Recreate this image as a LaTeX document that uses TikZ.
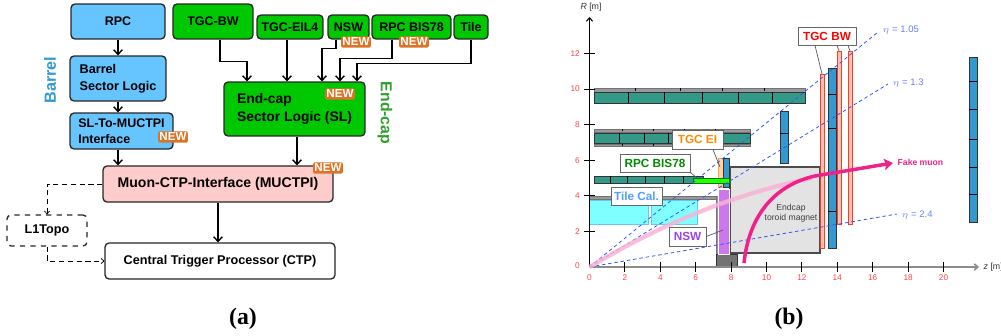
\documentclass[tikz,border=0pt]{standalone}
\usepackage{fontspec}
\setmainfont{Liberation Sans}
\newfontfamily\capfont{Liberation Serif}
\usetikzlibrary{arrows.meta,positioning}
\definecolor{barrelblue}{HTML}{66C5FF}
\definecolor{endgreen}{HTML}{00C800}
\definecolor{endtext}{HTML}{2CA02C}
\definecolor{ctppink}{HTML}{FFCCCC}
\definecolor{neworange}{HTML}{DC7428}
\definecolor{mdtblue}{HTML}{3399D0}
\definecolor{rpcteal}{HTML}{339988}
\definecolor{tgcred}{HTML}{F04030}
\definecolor{tgcfill}{HTML}{FFC0B0}
\definecolor{etablue}{HTML}{3355EE}
\definecolor{muonpink}{HTML}{EE2288}
\definecolor{ticktext}{HTML}{FF4444}
\definecolor{tilecyan}{HTML}{7FFFFF}
\definecolor{nswpurple}{HTML}{CC77EE}
\definecolor{nswtext}{HTML}{9944EE}
\tikzset{
	sysbox/.style={draw=black!85,line width=.75pt,rounded corners=2.3pt,font=\fontsize{7.1}{9.4}\selectfont\bfseries,align=left,inner sep=0pt},
	bluebox/.style={sysbox,fill=barrelblue},
	greenbox/.style={sysbox,fill=endgreen},
	newbadge/.style={fill=neworange,text=white,rounded corners=.8pt,inner xsep=.7pt,inner ysep=1pt,font=\fontsize{6.6}{7}\selectfont\bfseries},
	calloutbox/.style={draw=black!60,fill=white,line width=.5pt,inner sep=0pt,font=\fontsize{6.7}{8}\selectfont\bfseries},
	calloutline/.style={draw=black!65,line width=.4pt},
	ticklabel/.style={text=ticktext,inner sep=0pt,font=\fontsize{4.7}{5}\selectfont},
	etalabel/.style={text=etablue!75,inner sep=0pt,anchor=west,font=\fontsize{5.4}{6}\selectfont},
	etaline/.style={etablue,line width=.45pt,dash pattern=on 2pt off 1.6pt},
	mdtbar/.style={draw=black!80,fill=mdtblue,line width=.5pt},
	tgcbar/.style={draw=tgcred,fill=tgcfill,line width=.45pt},
	tealbar/.style={draw=black!80,fill=rpcteal,line width=.5pt},
	greybar/.style={draw=black!55,fill=black!40,line width=.3pt},
	smalltip/.style={>={Straight Barb[length=1.6pt,width=3pt]}}
}

\begin{document}
\begin{tikzpicture}[> = {Straight Barb[length=2.6pt,width=5pt]}, % arrow head style
	x=.02cm,y=-.02cm, % one unit is one pixel of the figure
	line width=.8pt]
	\useasboundingbox (0,0) rectangle (1001,335);

	% left: trigger flow
	\node[bluebox,minimum width=1.88cm,minimum height=.7cm] (rpc) at (118,21.5) {RPC};
	\node[bluebox,minimum width=1.92cm,minimum height=.9cm,font=\fontsize{7.2}{9.4}\selectfont\bfseries] (barrelsl) at (118,78.5) {Barrel\\Sector Logic};
	\node[bluebox,minimum width=2.06cm,minimum height=.72cm] (sltomu) at (121.5,131) {SL-To-MUCTPI\\Interface};
	\node[greenbox,minimum width=1.6cm,minimum height=.7cm] (tgcbw) at (213,21.5) {TGC-BW};
	\node[greenbox,minimum width=1.32cm,minimum height=.48cm] (tgceil) at (290,27) {TGC-EIL4};
	\node[greenbox,minimum width=.82cm,minimum height=.48cm] (nsw) at (348.5,27) {NSW};
	\node[greenbox,minimum width=1.58cm,minimum height=.48cm] (rpcbis) at (411.5,27) {RPC BIS78};
	\node[greenbox,minimum width=.68cm,minimum height=.48cm] (tile) at (471,27) {Tile};
	\node[greenbox,minimum width=2.82cm,minimum height=1.08cm,font=\fontsize{7.9}{10}\selectfont\bfseries] (endcap) at (294.5,109) {End-cap\\Sector Logic (SL)};
	\node[sysbox,fill=ctppink,minimum width=4.6cm,minimum height=.72cm,font=\fontsize{8}{9}\selectfont\bfseries] (muctpi) at (218,184) {Muon-CTP-Interface (MUCTPI)};
	\node[sysbox,fill=white,minimum width=4.6cm,minimum height=.72cm,font=\fontsize{7.2}{8}\selectfont\bfseries] (ctp) at (220,261) {Central Trigger Processor (CTP)};
	\node[sysbox,fill=white,dashed,minimum width=1.6cm,minimum height=.62cm,font=\fontsize{7.2}{8}\selectfont\bfseries] (l1topo) at (47,230.5) {L1Topo};

	\draw [->] (rpc) -- (barrelsl);
	\draw [->] (barrelsl.south) -- (barrelsl.south |- sltomu.north);
	\draw [->] (barrelsl.south |- sltomu.south) -- (barrelsl.south |- muctpi.north);
	\draw [->] ([xshift=.14cm]tgcbw.south) -- ++(0,22) -| ([xshift=-.95cm]endcap.north);
	\draw [->] ([xshift=-.06cm]tgceil.south) -- ([xshift=-.06cm]tgceil.south |- endcap.north);
	\draw [->] ([xshift=-.25cm]nsw.south) -- ++(0,9) -| ([xshift=.55cm]endcap.north);
	\draw [->] ([xshift=-.39cm]rpcbis.south) -- ++(0,19) -| ([xshift=.91cm]endcap.north);
	\draw [->] (tile.south) -- ++(0,24) -| ([xshift=1.25cm]endcap.north);
	\draw [->] ([xshift=.05cm]endcap.south) -- ([xshift=.05cm]endcap.south |- muctpi.north);
	\draw [->] (muctpi) -- (muctpi |- ctp.north);
	\draw [->,smalltip,densely dashed,line width=.4pt] (muctpi.west) -| (l1topo.north);
	\draw [->,smalltip,densely dashed,line width=.4pt] (l1topo.south) |- (ctp.west);

	\node[newbadge] (new1) at (173,137) {NEW};
	\node[newbadge] (new2) at (356,42) {NEW};
	\node[newbadge] (new3) at (414,42) {NEW};
	\node[newbadge] (new4) at (340,94) {NEW};
	\node[newbadge] (new5) at (328,168) {NEW};

	\node[rotate=90,text=mdtblue,font=\fontsize{9.2}{10}\selectfont\bfseries,inner sep=0pt] (barreltxt) at (50,80) {Barrel};
	\node[rotate=-90,text=endtext,font=\fontsize{9}{10}\selectfont\bfseries,inner sep=0pt] (endtxt) at (385,113) {End-cap};
	\node[font=\fontsize{13.5}{14}\selectfont\bfseries\capfont,inner sep=0pt] (capa) at (243,319) {(a)};
	\node[font=\fontsize{13.5}{14}\selectfont\bfseries\capfont,inner sep=0pt] (capb) at (789,319) {(b)};

	% right: detector layout
	\draw[greybar] (594,88) rectangle (805,92);
	\draw[tealbar] (594,92) rectangle (805,103);
	\foreach \xd in {628,664,702,738,772} \draw[black,line width=.5pt] (\xd,92) -- (\xd,103);
	\foreach \xd in {635,680,722,764} \draw[black,line width=.4pt] (\xd,88) -- (\xd,90.5);

	\draw[greybar] (594,129) rectangle (750,132);
	\draw[tealbar] (594,133) rectangle (750,143);
	\draw[greybar] (594,144) rectangle (750,146);
	\foreach \xd in {619,644,668,696,723} \draw[black,line width=.5pt] (\xd,133) -- (\xd,143);
	\foreach \xd in {622,653,684,715} {
		\draw[black,line width=.4pt] (\xd,129) -- (\xd,131);
		\draw[black,line width=.4pt] (\xd,144) -- (\xd,146);
	}

	\draw[tealbar] (594,176) rectangle (703,183);
	\foreach \xd in {610,627,645,664,683} \draw[black,line width=.5pt] (\xd,176) -- (\xd,183);

	\draw[greybar] (589,196) rectangle (716,199);
	\draw[greybar] (716,196) rectangle (718,254);
	\draw[draw=barrelblue,fill=tilecyan,line width=.5pt] (589,200) -- (648,200) -- (648,224) -- (589,224);
	\draw[draw=barrelblue,fill=tilecyan,line width=.5pt] (651,200) rectangle (697,224);

	\draw[draw=black!70,fill=black!11,line width=.6pt] (730,167) rectangle (820,253);
	\node[inner sep=0pt,align=center,font=\fontsize{4.9}{5.9}\selectfont,text=black!75] (toroidtxt) at (791,213) {Endcap\\toroid magnet};
	\draw[draw=black!80,fill=black!55,line width=.5pt] (716,254) rectangle (737,266);
	\draw[draw=white,fill=nswpurple,line width=.4pt] (718,189) rectangle (729,254);
	\draw[draw=orange!70,fill=orange!35,line width=.4pt] (718,158) rectangle (723,187);
	\draw[mdtbar] (723,158) rectangle (729,187);
	\draw[draw=green!50!black,fill=green!85!yellow,line width=.4pt] (693,178) rectangle (729,183);

	\draw[tgcbar] (820,74) rectangle (824,248);
	\draw[tgcbar] (837,51) rectangle (841,224);
	\draw[tgcbar] (848,51) rectangle (852,224);
	\draw[mdtbar] (828,68) rectangle (836,248);
	\foreach \yd in {94,128,172,211} \draw[black,line width=.5pt] (828,\yd) -- (836,\yd);
	\draw[mdtbar] (780,111) rectangle (788,163);
	\draw[black,line width=.5pt] (780,133) -- (788,133);
	\draw[mdtbar] (969,57) rectangle (977,222);
	\foreach \yd in {81,109,139,167,194} \draw[black,line width=.5pt] (969,\yd) -- (977,\yd);

	% axes
	\coordinate (orig) at (589.5,267);
	\coordinate (zend) at (979,267);
	\coordinate (rend) at (589.5,17);
	\draw[-{Straight Barb[length=2pt,width=3.6pt]},black!45,line width=.9pt] (orig) -- (zend);
	\draw[-{Straight Barb[length=2pt,width=3.6pt]},black,line width=.6pt] (orig) -- (rend);
	\foreach \zt in {2,4,...,20} {
		\draw[black,line width=.5pt] ({589.5+17.7*\zt},262) -- ({589.5+17.7*\zt},272);
		\node[ticklabel] (zl\zt) at ({589.5+17.7*\zt},278) {\zt};
	}
	\node[ticklabel] (zl0) at (589.5,278) {0};
	\foreach \rt in {2,4,...,12} {
		\draw[black,line width=.5pt] (584,{267-17.8*\rt}) -- (595,{267-17.8*\rt});
		\node[ticklabel,anchor=east] (rl\rt) at (580.5,{267-17.8*\rt}) {\rt};
	}
	\node[ticklabel,anchor=east] (rl0) at (580.5,266) {0};
	\node[inner sep=0pt,font=\fontsize{5}{6}\selectfont,text=black!80] (rname) at (591,7) {\textit{R} [m]};
	\node[inner sep=0pt,anchor=west,font=\fontsize{5}{6}\selectfont,text=black!80] (zname) at (983,267) {\textit{z} [m]};

	% eta lines
	\coordinate (eta1) at (878,32);
	\coordinate (eta2) at (888,84);
	\coordinate (eta3) at (897,214);
	\draw[etaline] (orig) -- (eta1);
	\draw[etaline] (orig) -- (eta2);
	\draw[etaline] (orig) -- (eta3);
	\node[etalabel] (etatxt1) at (882,30) {$\eta$ = 1.05};
	\node[etalabel] (etatxt2) at (892,83) {$\eta$ = 1.3};
	\node[etalabel] (etatxt3) at (901,215) {$\eta$ = 2.4};

	% muon tracks
	\coordinate (muonend) at (893,163);
	\draw[muonpink!35,line width=2.4pt,opacity=.85] (orig) .. controls (660,225) and (730,195) .. (812,178);
	\draw[-{Stealth[length=5pt,width=6.5pt,inset=1pt]},muonpink,line width=2pt] (744,263) .. controls (749,215) and (775,185) .. (815,176) -- (muonend);
	\node[inner sep=0pt,anchor=west,text=muonpink,font=\fontsize{4.9}{6}\selectfont\bfseries] (muontxt) at (897,162) {Fake muon};

	% callouts
	\node[calloutbox,text=red,minimum width=1.16cm,minimum height=.36cm] (cbw) at (827,36) {TGC BW};
	\node[calloutbox,text=orange!90!yellow,minimum width=1.02cm,minimum height=.38cm] (cei) at (697.5,139.5) {TGC EI};
	\node[calloutbox,text=green!55!black,minimum width=1.4cm,minimum height=.36cm] (crpc) at (655,163) {RPC BIS78};
	\node[calloutbox,text=barrelblue!80!blue,minimum width=1.02cm,minimum height=.36cm] (ctile) at (636.5,196) {Tile Cal.};
	\node[calloutbox,text=nswtext,minimum width=.74cm,minimum height=.38cm] (cnsw) at (687.5,236.5) {NSW};
	\coordinate (bw1) at (822,74);
	\coordinate (bw2) at (839,51);
	\coordinate (bw3) at (850,51);
	\coordinate (eitip) at (720,167);
	\coordinate (bistip) at (697,178);
	\coordinate (nswtip) at (723,230);
	\draw[calloutline] ([xshift=-.24cm]cbw.south) -- (bw1);
	\draw[calloutline] ([xshift=.2cm]cbw.south) -- (bw2);
	\draw[calloutline] ([xshift=.42cm]cbw.south) -- (bw3);
	\draw[calloutline] ([xshift=.31cm]cei.south) -- (eitip);
	\draw[calloutline] (crpc.south east) -- (bistip);
	\draw[calloutline] (cnsw.east) -- (nswtip);
\end{tikzpicture}
\end{document}
